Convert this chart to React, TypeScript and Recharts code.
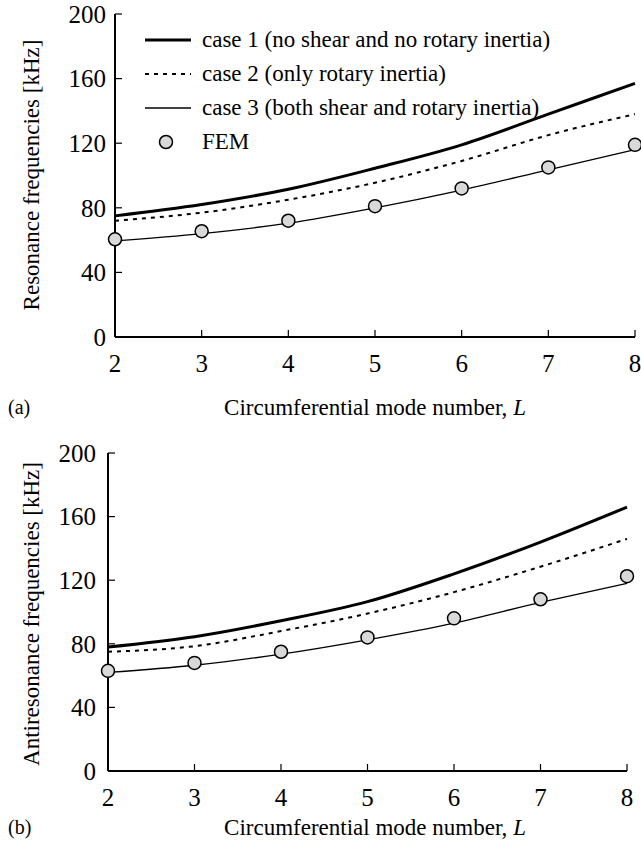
import { LineChart, Line, XAxis, YAxis, Legend } from 'recharts';

const modes = [2, 3, 4, 5, 6, 7, 8];
const yTicks = [0, 40, 80, 120, 160, 200];

// (a) resonance frequencies [kHz]
const resCase1 = [75, 82, 91.5, 104.5, 119, 138, 157];
const resCase2 = [72, 77, 85, 95.5, 109, 125, 138];
const resCase3 = [59.5, 64, 70.5, 80, 91, 103.5, 116];
const resFem = [60.5, 65.5, 72, 81, 92, 105, 119];

// (b) antiresonance frequencies [kHz]
const antiCase1 = [78, 84.5, 94.5, 106.5, 124, 144, 166];
const antiCase2 = [75, 78.5, 88, 99, 112.5, 128.5, 146];
const antiCase3 = [62, 66.5, 73.5, 82.5, 93, 106, 118];
const antiFem = [63, 68, 75, 84, 96, 108, 122.5];

const seriesNames = [
  'case 1 (no shear and no rotary inertia)',
  'case 2 (only rotary inertia)',
  'case 3 (both shear and rotary inertia)',
  'FEM',
];

const font = '"Liberation Serif", "Times New Roman", serif';
const tickStyle = { fontSize: 25, fill: '#000', fontFamily: font };

const build = (c1: number[], c2: number[], c3: number[], fem: number[]) =>
  modes.map((L, i) => ({ L, c1: c1[i], c2: c2[i], c3: c3[i], fem: fem[i] }));

const resData = build(resCase1, resCase2, resCase3, resFem);
const antiData = build(antiCase1, antiCase2, antiCase3, antiFem);

const FemDot = (p: any) => (
  <circle key={`d${p.index}`} cx={p.cx} cy={p.cy} r={6.5} fill="#d9d9d9" stroke="#000" strokeWidth={1.5} />
);

function LegendBox() {
  const swatch = (i: number) => {
    if (i === 0) return <line x1={0} y1={12} x2={46} y2={12} stroke="#000" strokeWidth={3} />;
    if (i === 1) return <line x1={0} y1={12} x2={46} y2={12} stroke="#000" strokeWidth={2} strokeDasharray="4 5" />;
    if (i === 2) return <line x1={0} y1={12} x2={46} y2={12} stroke="#000" strokeWidth={1.3} />;
    return <circle cx={21} cy={12} r={6.5} fill="#d9d9d9" stroke="#000" strokeWidth={1.5} />;
  };
  return (
    <div style={{ fontFamily: font, fontSize: 23, color: '#000' }}>
      {seriesNames.map((name, i) => (
        <div key={name} style={{ display: 'flex', alignItems: 'center', height: 34 }}>
          <svg width={46} height={24} style={{ marginRight: 11 }}>{swatch(i)}</svg>
          <span style={{ whiteSpace: 'nowrap' }}>{name}</span>
        </div>
      ))}
    </div>
  );
}

function Panel({ data, width, height, margin, yMargin, withLegend }: any) {
  return (
    <LineChart width={width} height={height} data={data} margin={margin}>
      <XAxis
        dataKey="L" type="number" domain={[2, 8]} ticks={modes} interval={0}
        stroke="#000" strokeWidth={2} tickSize={-7} tickMargin={24} height={30}
        tick={tickStyle} tickLine={{ stroke: '#000', strokeWidth: 1.2 }}
      />
      <XAxis xAxisId="top" dataKey="L" type="number" domain={[2, 8]} orientation="top"
        height={0} tick={false} tickLine={false} stroke="#000" strokeWidth={2} />
      <YAxis
        type="number" domain={[0, 200]} ticks={yTicks} interval={0}
        stroke="#000" strokeWidth={2} tickSize={-7} tickMargin={yMargin} width={60}
        tick={tickStyle} tickLine={{ stroke: '#000', strokeWidth: 1.2 }}
      />
      <YAxis yAxisId="right" type="number" domain={[0, 200]} orientation="right"
        width={0} tick={false} tickLine={false} stroke="#000" strokeWidth={2} />
      {withLegend && (
        <Legend content={<LegendBox />} layout="vertical" verticalAlign="middle" align="center"
          wrapperStyle={{ left: 145, top: 23, width: 480 }} />
      )}
      <Line name={seriesNames[0]} dataKey="c1" type="monotone" stroke="#000" strokeWidth={3} dot={false} isAnimationActive={false} />
      <Line name={seriesNames[1]} dataKey="c2" type="monotone" stroke="#000" strokeWidth={2} strokeDasharray="4 5" dot={false} isAnimationActive={false} />
      <Line name={seriesNames[2]} dataKey="c3" type="monotone" stroke="#000" strokeWidth={1.3} dot={false} isAnimationActive={false} />
      <Line name={seriesNames[3]} dataKey="fem" stroke="none" dot={FemDot} isAnimationActive={false} />
    </LineChart>
  );
}

const textBase = { position: 'absolute' as const, fontFamily: font, fontSize: 23, color: '#000', whiteSpace: 'nowrap' as const };

export default function App() {
  return (
    <div style={{ position: 'absolute', left: 0, top: 0, width: 641, height: 849, background: '#fff' }}>
      <div style={{ position: 'absolute', left: 0, top: 0 }}>
        <Panel data={resData} width={641} height={430} yMargin={16} withLegend
          margin={{ top: 14, right: 6, bottom: 63, left: 55 }} />
      </div>
      <div style={{ position: 'absolute', left: 0, top: 440 }}>
        <Panel data={antiData} width={641} height={409} yMargin={19}
          margin={{ top: 13, right: 14, bottom: 48, left: 48 }} />
      </div>

      <div style={{ ...textBase, left: 32, top: 175, transform: 'translate(-50%, -50%) rotate(-90deg)' }}>
        Resonance frequencies [kHz]
      </div>
      <div style={{ ...textBase, left: 32, top: 614, transform: 'translate(-50%, -50%) rotate(-90deg)' }}>
        Antiresonance frequencies [kHz]
      </div>

      <div style={{ ...textBase, left: 375, top: 408, transform: 'translate(-50%, -50%)' }}>
        Circumferential mode number, <i>L</i>
      </div>
      <div style={{ ...textBase, left: 375, top: 828, transform: 'translate(-50%, -50%)' }}>
        Circumferential mode number, <i>L</i>
      </div>

      <div style={{ ...textBase, fontSize: 20, left: 8, top: 396 }}>(a)</div>
      <div style={{ ...textBase, fontSize: 20, left: 8, top: 816 }}>(b)</div>
    </div>
  );
}
